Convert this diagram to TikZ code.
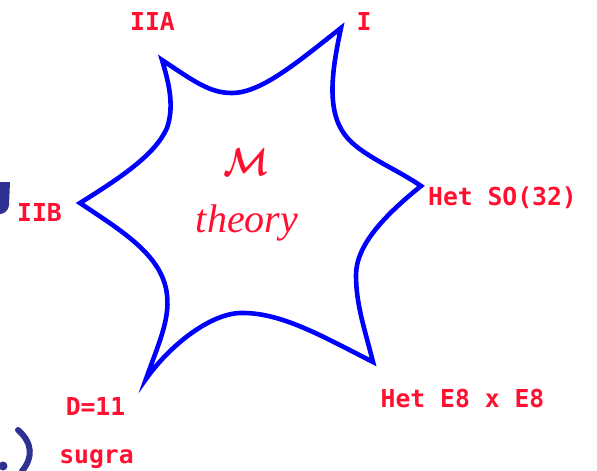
\documentclass[tikz,border=0pt]{standalone}
\usepackage{fontspec}
\newfontfamily\labelfont{DejaVu Sans Mono}
\newfontfamily\theoryfont{Liberation Serif}
\definecolor{lblred}{RGB}{255,16,48}
\definecolor{starblue}{RGB}{0,0,255}
\definecolor{navyfrag}{RGB}{46,49,146}
\begin{document}
\begin{tikzpicture}[x=1pt,y=-1pt,
  lbl/.style={text=lblred, font=\labelfont\bfseries\fontsize{24.7}{26}\selectfont, inner sep=0pt, anchor=base},
  starline/.style={draw=starblue, line width=4.6pt, line join=miter}]
\useasboundingbox (0,0) rectangle (597,471);
% vertices
\coordinate (vIIA) at (162,60);
\coordinate (vI) at (341,28);
\coordinate (vSO) at (421,186);
\coordinate (vE8) at (373,362);
\coordinate (vD) at (146,379);
\coordinate (vIIB) at (80,203);
% star outline
\path[starline] (vIIA) .. controls (195,82) and (210,93) .. (232,93)
 .. controls (262,93) and (300,60) .. (vI)
 .. controls (332,70) and (326,110) .. (345,135)
 .. controls (360,155) and (395,168) .. (vSO)
 .. controls (385,215) and (356,245) .. (356,275)
 .. controls (356,305) and (365,330) .. (vE8)
 .. controls (320,335) and (280,312) .. (240,313)
 .. controls (210,314) and (170,345) .. (vD)
 .. controls (158,345) and (170,320) .. (167,295)
 .. controls (163,255) and (120,230) .. (vIIB)
 .. controls (120,178) and (155,155) .. (167,128)
 .. controls (175,105) and (168,80) .. cycle;
% labels
\node[lbl] (tIIA) at (152.5,30) {IIA};
\node[lbl] (tI) at (364,30) {I};
\node[lbl] (tIIB) at (39.5,221) {IIB};
\node[lbl] (tSO) at (502.5,205) {Het SO(32)};
\node[lbl] (tE8) at (462.5,407) {Het E8 x E8};
\node[lbl] (tD) at (95.5,415) {D=11};
\node[lbl] (tsugra) at (96.5,463) {sugra};
% centre text
\node[text=lblred, inner sep=0pt] (mlet) at (246,162) {\scalebox{3.3}[3.9]{\boldmath$\mathcal{M}$}};
\node[text=lblred, inner sep=0pt, anchor=base, font=\theoryfont\itshape\fontsize{40}{44}\selectfont] (theory) at (247,232) {theory};
% cropped fragments at the left edge
\fill[navyfrag] (0,182) -- (10,182) -- (9,205) .. controls (8,212) and (3,214) .. (0,214) -- cycle;
\draw[navyfrag, line width=6pt, line cap=round] (18,430) .. controls (33,443) and (33,458) .. (22,471);
\fill[navyfrag] (3,466) circle (4.5);
\end{tikzpicture}
\end{document}
